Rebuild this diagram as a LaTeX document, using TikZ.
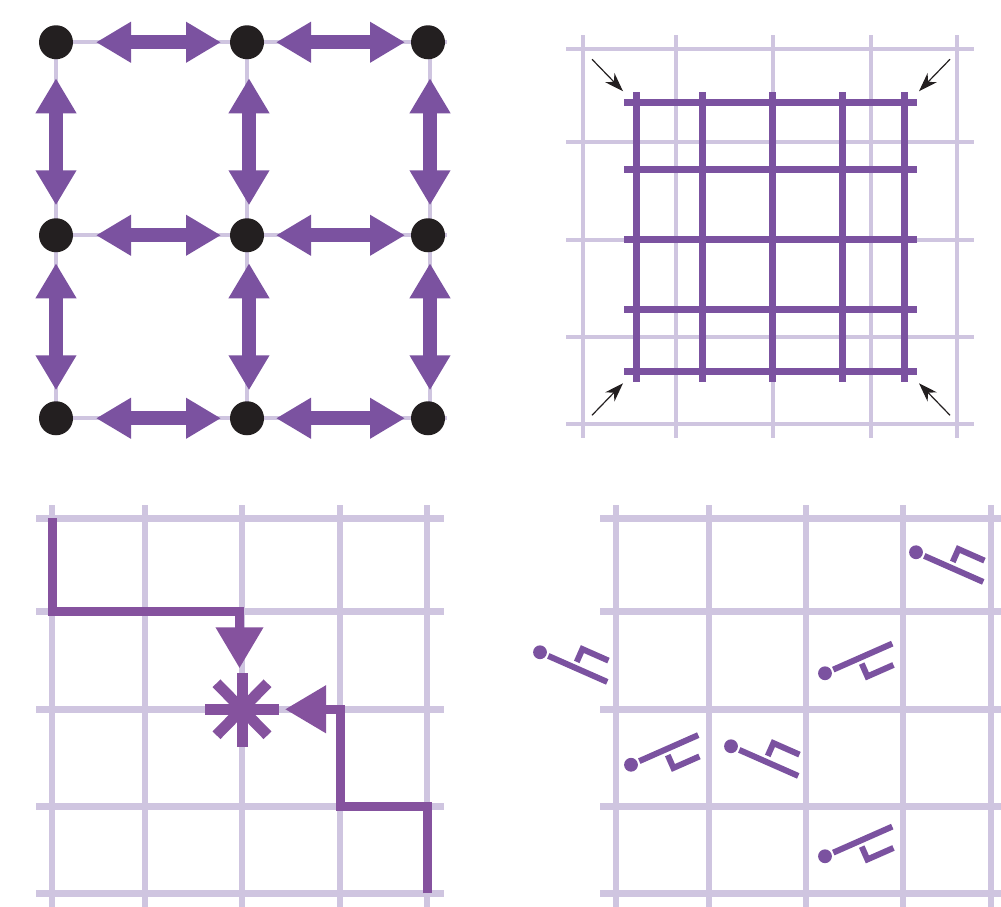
\documentclass[tikz,border=0pt]{standalone}
\usepackage{xcolor}
\definecolor{cGrid}{HTML}{CFC5E0}
\definecolor{cMain}{HTML}{7B52A0}
\definecolor{cPath}{HTML}{85529E}
\definecolor{cInk}{HTML}{231F20}
\usetikzlibrary{arrows.meta,backgrounds}
\tikzset{
  node-dot/.style={circle,fill=cInk,inner sep=0pt,minimum size=34pt},
  line-grid/.style={draw=cGrid,line width=4.4pt},
  line-gridwide/.style={draw=cGrid,line width=6.5pt},
  line-bar/.style={draw=cMain,line width=7pt},
  line-star/.style={draw=cPath,line width=11pt},
  arrow-both/.style={{Triangle[length=35pt,width=38.5pt]}-{Triangle[length=35pt,width=38.5pt]},draw=cMain,line width=14pt},
  arrow-thin/.style={-{Stealth[length=19pt,width=13pt,inset=6pt]},draw=cInk,line width=1.2pt},
  arrow-path/.style={-{Triangle[length=41pt,width=45.5pt]},draw=cPath,line width=9pt},
  pics/flag/.style={code={
    \fill[cMain] (0,0) circle (6.9pt);
    \draw[cMain,line width=6pt] (9,0) -- (73.5,0);
    \draw[cMain,line width=6pt] (66,-20) -- (37.5,-20) -- (37.5,-6);
  }},
}
\begin{document}
\begin{tikzpicture}[x=1pt,y=-1pt]
  \useasboundingbox (0,0) rectangle (1001,906);
  \begin{scope}[yshift=-0.25pt]
  % dots with double arrows
  \node[node-dot] (d11) at (56,42) {};
  \node[node-dot] (d12) at (247,42) {};
  \node[node-dot] (d13) at (428,42) {};
  \node[node-dot] (d21) at (56,235) {};
  \node[node-dot] (d22) at (247,235) {};
  \node[node-dot] (d23) at (428,235) {};
  \node[node-dot] (d31) at (56,418) {};
  \node[node-dot] (d32) at (247,418) {};
  \node[node-dot] (d33) at (428,418) {};
  \begin{scope}[on background layer]
    \foreach \r in {1,2,3} {
      \draw[line-grid,shorten >=-19pt] (d\r1.center) -- (d\r3.center);
    }
    \foreach \c/\s in {1/0pt,2/0pt,3/2pt} {
      \draw[line-grid,transform canvas={xshift=\s}] (d1\c.center) -- (d3\c.center);
    }
  \end{scope}
  \foreach \r in {1,2,3} {
    \draw[arrow-both,shorten <=40pt,shorten >=26pt] (d\r1.center) -- (d\r2.center);
    \draw[arrow-both,shorten <=29pt,shorten >=23pt] (d\r2.center) -- (d\r3.center);
  }
  \foreach \c/\s in {1/0pt,2/2pt,3/2pt} {
    \draw[arrow-both,transform canvas={xshift=\s},shorten <=36pt,shorten >=30pt] (d1\c.center) -- (d2\c.center);
    \draw[arrow-both,transform canvas={xshift=\s},shorten <=28pt,shorten >=28pt] (d2\c.center) -- (d3\c.center);
  }
  % grid with a finer block
  \foreach \x in {583,676,773,871,957} {
    \draw[line-grid] (\x,35) -- (\x,438);
  }
  \foreach \y in {49,142,240,337,424} {
    \draw[line-grid] (566,\y) -- (974,\y);
  }
  \foreach \x in {636,702,772,842,904} {
    \draw[line-bar] (\x,92) -- (\x,382);
  }
  \foreach \y in {102,169,239,309,371} {
    \draw[line-bar] (624,\y) -- (917,\y);
  }
  \draw[arrow-thin] (592,59) -- (623,91);
  \draw[arrow-thin] (950,59) -- (919,91);
  \draw[arrow-thin] (592,415) -- (623,383);
  \draw[arrow-thin] (950,415) -- (919,383);
  % grid with two paths to a star
  \foreach \x in {52,145,242,340,427} {
    \draw[line-gridwide] (\x,505) -- (\x,907);
  }
  \foreach \y in {518,611,709,806,893} {
    \draw[line-gridwide] (36,\y) -- (444,\y);
  }
  \draw[arrow-path] (52,518) -- (52,611) -- (239.5,611) -- (239.5,668);
  \draw[arrow-path] (427,893) -- (427,806) -- (340,806) -- (340,709) -- (285,709);
  \draw[line-star] (205,709) -- (279,709);
  \draw[line-star] (242,673) -- (242,747);
  \draw[line-star] (216.5,683) -- (267.5,735);
  \draw[line-star] (216.5,735) -- (267.5,683);
  % grid with flags
  \foreach \x in {616,709,806,903,991} {
    \draw[line-gridwide] (\x,505) -- (\x,907);
  }
  \foreach \y in {518,611,709,806,893} {
    \draw[line-gridwide] (600,\y) -- (1001,\y);
  }
  \pic[rotate=-23.8] at (916,552) {flag};
  \pic[rotate=-23.8] at (540,652) {flag};
  \pic[rotate=-23.8] at (731,746) {flag};
  \pic[rotate=23.8,yscale=-1] at (825,673) {flag};
  \pic[rotate=23.8,yscale=-1] at (631,764.5) {flag};
  \pic[rotate=23.8,yscale=-1] at (825,856) {flag};
  \end{scope}
\end{tikzpicture}
\end{document}
